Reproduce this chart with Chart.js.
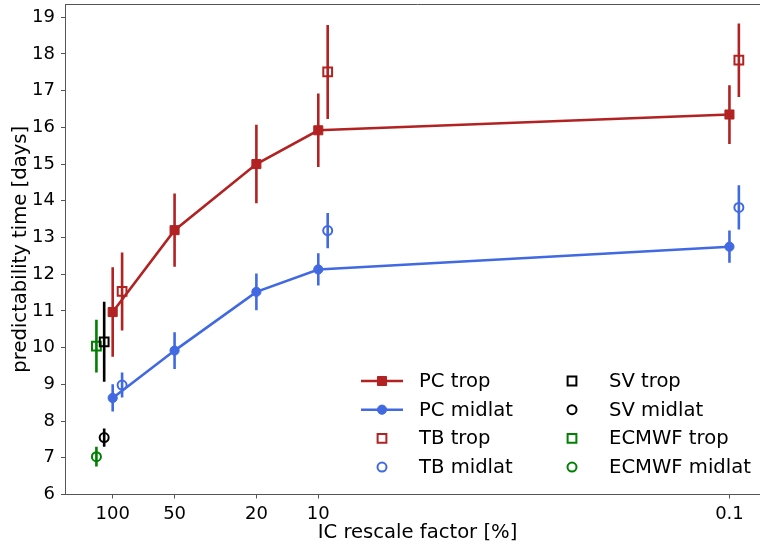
<!DOCTYPE html>
<html>
<head>
<meta charset="utf-8">
<script src="https://cdn.jsdelivr.net/npm/chart.js@4"></script>
<style>
  html, body { margin: 0; padding: 0; background: #fff; overflow: hidden; }
  #wrap { width: 760px; height: 547px; position: relative; overflow: hidden; }
  #c { display: block; }
</style>
</head>
<body>
<div id="wrap"><canvas id="c" width="770" height="547"></canvas></div>
<script>
// ---- data ----
const xTicks = [100, 50, 20, 10, 0.1];
const xTickLabels = ['100', '50', '20', '10', '0.1'];
const yTicks = [6, 7, 8, 9, 10, 11, 12, 13, 14, 15, 16, 17, 18, 19];

const xPC = [100, 50, 20, 10, 0.1];
const pcTrop = [10.97, 13.2, 15.0, 15.92, 16.35];
const pcTropErr = [1.22, 1.0, 1.07, 1.0, 0.8];
const pcMid = [8.63, 9.92, 11.52, 12.13, 12.75];
const pcMidErr = [0.37, 0.5, 0.5, 0.44, 0.44];

const xTB = [90, 9, 0.09];
const tbTrop = [11.53, 17.51, 17.83];
const tbTropErr = [1.06, 1.28, 1.0];
const tbMid = [8.98, 13.19, 13.82];
const tbMidErr = [0.34, 0.48, 0.6];

const xSV = [110];
const svTrop = [10.16];
const svTropErr = [1.09];
const svMid = [7.55];
const svMidErr = [0.25];

const xEC = [120];
const ecTrop = [10.04];
const ecTropErr = [0.72];
const ecMid = [7.03];
const ecMidErr = [0.27];

// ---- styling ----
const RED = '#b22222', BLUE = '#4169e1', GREEN = '#008000', BLACK = '#000000';
const FONT = 'DejaVu Sans';
const TICK_SIZE = 18, LABEL_SIZE = 19.6;

function pts(xs, ys) { return xs.map((x, i) => ({ x: x, y: ys[i] })); }
function errPts(xs, ys, es) {
  const out = [];
  xs.forEach((x, i) => {
    out.push({ x: x, y: ys[i] - es[i] });
    out.push({ x: x, y: ys[i] + es[i] });
    out.push({ x: x, y: null });
  });
  return out;
}
function errDs(xs, ys, es, color) {
  return { data: errPts(xs, ys, es), showLine: true, borderColor: color, borderWidth: 2.6,
           pointRadius: 0, spanGaps: false, fill: false };
}

const datasets = [
  { label: 'PC trop', data: pts(xPC, pcTrop), showLine: true, borderColor: RED, backgroundColor: RED,
    borderWidth: 2.6, pointStyle: 'rect', pointRadius: 6.4, pointBorderWidth: 1, pointBackgroundColor: RED, pointBorderColor: RED },
  { label: 'PC midlat', data: pts(xPC, pcMid), showLine: true, borderColor: BLUE, backgroundColor: BLUE,
    borderWidth: 2.6, pointStyle: 'circle', pointRadius: 4.6, pointBorderWidth: 1, pointBackgroundColor: BLUE, pointBorderColor: BLUE },
  { label: 'TB trop', data: pts(xTB, tbTrop), showLine: false, pointStyle: 'rect', pointRadius: 6.2,
    pointBorderWidth: 2, pointBackgroundColor: 'rgba(0,0,0,0)', pointBorderColor: RED, borderColor: RED },
  { label: 'TB midlat', data: pts(xTB, tbMid), showLine: false, pointStyle: 'circle', pointRadius: 4.5,
    pointBorderWidth: 2, pointBackgroundColor: 'rgba(0,0,0,0)', pointBorderColor: BLUE, borderColor: BLUE },
  { label: 'SV trop', data: pts(xSV, svTrop), showLine: false, pointStyle: 'rect', pointRadius: 6.2,
    pointBorderWidth: 2, pointBackgroundColor: 'rgba(0,0,0,0)', pointBorderColor: BLACK, borderColor: BLACK },
  { label: 'SV midlat', data: pts(xSV, svMid), showLine: false, pointStyle: 'circle', pointRadius: 4.5,
    pointBorderWidth: 2, pointBackgroundColor: 'rgba(0,0,0,0)', pointBorderColor: BLACK, borderColor: BLACK },
  { label: 'ECMWF trop', data: pts(xEC, ecTrop), showLine: false, pointStyle: 'rect', pointRadius: 6.2,
    pointBorderWidth: 2, pointBackgroundColor: 'rgba(0,0,0,0)', pointBorderColor: GREEN, borderColor: GREEN },
  { label: 'ECMWF midlat', data: pts(xEC, ecMid), showLine: false, pointStyle: 'circle', pointRadius: 4.5,
    pointBorderWidth: 2, pointBackgroundColor: 'rgba(0,0,0,0)', pointBorderColor: GREEN, borderColor: GREEN },
  errDs(xPC, pcTrop, pcTropErr, RED),
  errDs(xPC, pcMid, pcMidErr, BLUE),
  errDs(xTB, tbTrop, tbTropErr, RED),
  errDs(xTB, tbMid, tbMidErr, BLUE),
  errDs(xSV, svTrop, svTropErr, BLACK),
  errDs(xSV, svMid, svMidErr, BLACK),
  errDs(xEC, ecTrop, ecTropErr, GREEN),
  errDs(xEC, ecMid, ecMidErr, GREEN)
];

// legend: two columns, filled column by column
const legendOrder = [0, 1, 2, 3, 4, 5, 6, 7];

function drawMarker(ctx, ds, x, y) {
  const r = ds.pointRadius;
  ctx.save();
  ctx.lineWidth = ds.pointBorderWidth;
  ctx.strokeStyle = ds.pointBorderColor;
  ctx.fillStyle = ds.pointBackgroundColor;
  ctx.beginPath();
  if (ds.pointStyle === 'rect') {
    const s = Math.SQRT1_2 * r;
    ctx.rect(x - s, y - s, 2 * s, 2 * s);
  } else {
    ctx.arc(x, y, r, 0, Math.PI * 2);
  }
  ctx.fill();
  ctx.stroke();
  ctx.restore();
}

const framePlugin = {
  id: 'frameAndLegend',
  afterDraw(chart) {
    const ctx = chart.ctx;
    const a = chart.chartArea;
    ctx.save();
    ctx.strokeStyle = '#555';
    ctx.lineWidth = 1;
    ctx.beginPath();
    ctx.moveTo(a.left, a.top + 0.5);
    ctx.lineTo(a.right, a.top + 0.5);
    ctx.stroke();
    const rowY = [381, 409.7, 438.4, 467.1];
    const cols = [{ line: [361, 403], mark: 382, text: 419 }, { line: [551, 593], mark: 572, text: 609 }];
    ctx.font = LABEL_SIZE + 'px "' + FONT + '"';
    ctx.textBaseline = 'middle';
    ctx.textAlign = 'left';
    legendOrder.forEach((di, k) => {
      const ds = chart.data.datasets[di];
      const col = cols[Math.floor(k / 4)];
      const y = rowY[k % 4];
      if (ds.showLine) {
        ctx.save();
        ctx.strokeStyle = ds.borderColor;
        ctx.lineWidth = ds.borderWidth;
        ctx.beginPath();
        ctx.moveTo(col.line[0], y);
        ctx.lineTo(col.line[1], y);
        ctx.stroke();
        ctx.restore();
      }
      drawMarker(ctx, ds, col.mark, y);
      ctx.fillStyle = '#000';
      ctx.fillText(ds.label, col.text, y + 1);
    });
    ctx.restore();
  }
};

new Chart(document.getElementById('c'), {
  type: 'scatter',
  data: { datasets: datasets },
  plugins: [framePlugin],
  options: {
    responsive: false,
    devicePixelRatio: 1,
    animation: false,
    layout: { autoPadding: false, padding: { left: 0, right: 0, top: 4, bottom: 0 } },
    plugins: { legend: { display: false }, tooltip: { enabled: false } },
    scales: {
      x: {
        type: 'logarithmic',
        reverse: true,
        min: 0.0635,
        max: 170.6,
        afterBuildTicks: (s) => { s.ticks = xTicks.map(v => ({ value: v })); },
        afterFit: (s) => { s.height = 52.5; s.paddingLeft = 0; s.paddingRight = 0; },
        ticks: {
          autoSkip: false, maxRotation: 0, padding: 5,
          color: '#000', font: { family: FONT, size: TICK_SIZE },
          callback: (v) => { const i = xTicks.indexOf(v); return i >= 0 ? xTickLabels[i] : ''; }
        },
        grid: { drawOnChartArea: false, drawTicks: true, tickLength: 4, color: '#555' },
        border: { display: true, color: '#555', width: 1 },
        title: { display: true, text: 'IC rescale factor [%]', color: '#000',
                 font: { family: FONT, size: LABEL_SIZE }, padding: { top: 0, bottom: 2 } }
      },
      y: {
        type: 'linear',
        min: 6,
        max: 19.36,
        afterBuildTicks: (s) => { s.ticks = yTicks.map(v => ({ value: v })); },
        afterFit: (s) => { s.width = 65; s.paddingTop = 0; s.paddingBottom = 0; },
        ticks: { padding: 6, color: '#000', font: { family: FONT, size: TICK_SIZE },
                 callback: (v) => String(v) },
        grid: { drawOnChartArea: false, drawTicks: true, tickLength: 4, color: '#555' },
        border: { display: true, color: '#555', width: 1 },
        title: { display: true, text: 'predictability time [days]', color: '#000',
                 font: { family: FONT, size: LABEL_SIZE }, padding: { top: 9, bottom: 0 } }
      }
    }
  }
});
</script>
</body>
</html>
